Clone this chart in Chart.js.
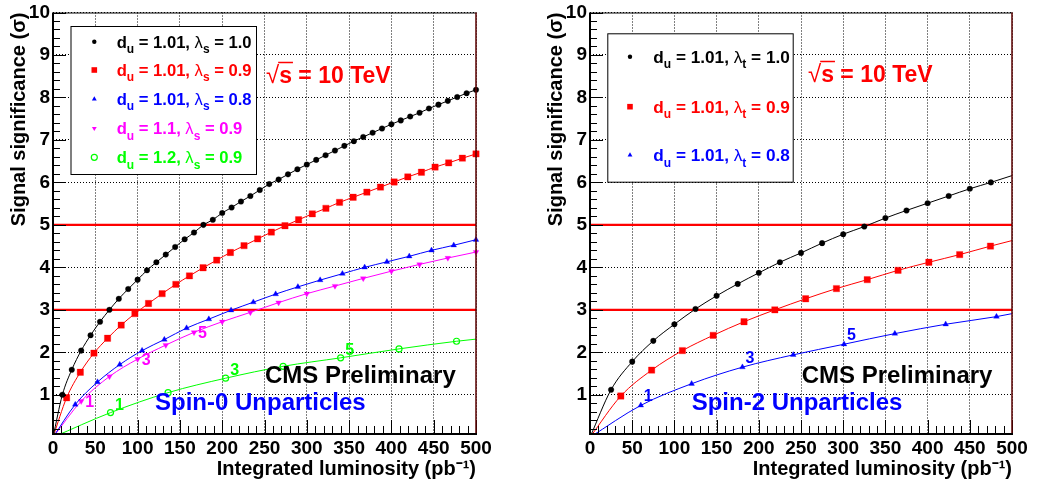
<!DOCTYPE html>
<html><head><meta charset="utf-8">
<script src="https://cdn.jsdelivr.net/npm/chart.js@4/dist/chart.umd.min.js"></script>
<style>
html,body{margin:0;padding:0;background:#fff;}
#wrap{position:relative;width:1038px;height:483px;overflow:hidden;background:#fff;}
canvas{position:absolute;top:0;}
#c0{left:0;}
#c1{left:519px;}
</style></head><body>
<div id="wrap"><canvas id="c0" width="519" height="483"></canvas><canvas id="c1" width="519" height="483"></canvas></div>
<script>
// ---------- axes ----------
const xTicks = [0,50,100,150,200,250,300,350,400,450,500];
const yTicks = [1,2,3,4,5,6,7,8,9,10];
const xRange = [0,500];
const yRange = [0.1,10];
const thresholds = [3,5];
const curveOrigin = [0,0];

// ---------- Spin-0 panel ----------
const s0Du = ['1.01','1.01','1.01','1.1','1.2'];
const s0Lambda = ['1.0','0.9','0.8','0.9','0.9'];

const s0BlackLumi = [11.1,22.2,33.3,44.4,55.6,66.7,77.8,88.9,100,111.1,122.2,133.3,144.4,155.6,166.7,177.8,188.9,200,211.1,222.2,233.3,244.4,255.6,266.7,277.8,288.9,300,311.1,322.2,333.3,344.4,355.6,366.7,377.8,388.9,400,411.1,422.2,433.3,444.4,455.6,466.7,477.8,488.9,500];
const s0BlackSig  = [1.00,1.59,2.04,2.40,2.72,3.00,3.26,3.49,3.71,3.93,4.12,4.30,4.48,4.66,4.82,5.00,5.12,5.28,5.41,5.55,5.68,5.82,5.96,6.07,6.19,6.31,6.42,6.53,6.64,6.75,6.86,6.97,7.07,7.17,7.27,7.37,7.46,7.55,7.64,7.74,7.83,7.92,8.01,8.10,8.18];

const s0RedLumi = [16.1,32.3,48.4,64.5,80.6,96.8,112.9,129.0,145.2,161.3,177.4,193.5,209.7,225.8,241.9,258.1,274.2,290.3,306.5,322.6,338.7,354.8,371.0,387.1,403.2,419.4,435.5,451.6,467.7,483.9,500];
const s0RedSig  = [0.93,1.53,1.98,2.33,2.64,2.91,3.15,3.38,3.60,3.80,3.99,4.17,4.35,4.51,4.67,4.83,4.98,5.12,5.26,5.39,5.53,5.65,5.77,5.89,6.01,6.13,6.24,6.36,6.46,6.57,6.67];

const s0BlueLumi = [26.3,52.6,78.9,105.3,131.6,157.9,184.2,210.5,236.8,263.2,289.5,315.8,342.1,368.4,394.7,421.1,447.4,473.7,500];
const s0BlueSig  = [0.77,1.30,1.71,2.04,2.30,2.57,2.78,2.99,3.18,3.37,3.54,3.70,3.85,4.00,4.13,4.26,4.40,4.52,4.65];

const s0MagentaLumi = [33.3,66.7,100,133.3,166.7,200,233.3,266.7,300,333.3,366.7,400,433.3,466.7,500];
const s0MagentaSig  = [0.85,1.43,1.84,2.17,2.47,2.72,2.94,3.17,3.38,3.56,3.74,3.91,4.07,4.22,4.36];

const s0GreenLumi = [68,136,204,272,340,409,477];
const s0GreenSig  = [0.58,1.05,1.39,1.67,1.87,2.08,2.26];
const s0GreenEnd  = [500,2.31];

const s0MarkText = ['1','3','5'];
const s0MarkIndex = [0,2,4];

// ---------- Spin-2 panel ----------
const s2Du = ['1.01','1.01','1.01'];
const s2Lambda = ['1.0','0.9','0.8'];

const s2BlackLumi = [25,50,75,100,125,150,175,200,225,250,275,300,325,350,375,400,425,450,475];
const s2BlackSig  = [1.12,1.78,2.27,2.66,3.02,3.33,3.61,3.87,4.12,4.34,4.57,4.78,4.96,5.16,5.34,5.51,5.68,5.85,6.00];
const s2BlackEnd  = [500,6.16];

const s2RedLumi = [36.5,73,109.5,146,182.5,219,255.5,292,328.5,365,401.5,438,474.5];
const s2RedSig  = [0.97,1.58,2.04,2.40,2.72,3.00,3.26,3.50,3.71,3.93,4.12,4.30,4.50];
const s2RedEnd  = [500,4.63];

const s2BlueLumi = [60.2,120.4,180.6,240.8,301,361.2,421.4,481.6];
const s2BlueSig  = [0.75,1.26,1.65,1.94,2.19,2.44,2.66,2.84];
const s2BlueEnd  = [500,2.91];

const s2MarkText = ['1','3','5'];
const s2MarkIndex = [0,2,4];

// ---------- helpers ----------
const FAM = '"Liberation Sans", Arial, Helvetica, sans-serif';
const C = {black:'#000000', red:'#ff0000', blue:'#0000ff', magenta:'#ff00ff', green:'#00ff00'};

function pts(xs, ys, start, end) {
  const p = [];
  if (start) p.push({x:start[0], y:start[1], anchor:true});
  xs.forEach((v,i)=>p.push({x:v, y:ys[i]}));
  if (end) p.push({x:end[0], y:end[1], anchor:true});
  return p;
}
function seriesDs(label, xs, ys, end, color, style, r, open) {
  const down = style === 'triangleDown';
  return {
    label, data: pts(xs, ys, curveOrigin, end),
    borderColor: color, borderWidth: 1,
    backgroundColor: open ? 'rgba(0,0,0,0)' : color,
    pointBorderColor: color, pointBorderWidth: open ? 1.2 : 0.3,
    pointBackgroundColor: open ? 'rgba(0,0,0,0)' : color,
    pointStyle: down ? 'triangle' : style, pointRotation: down ? 180 : 0,
    pointRadius: c => (c.raw && c.raw.anchor) ? 0 : r,
    cubicInterpolationMode: 'monotone', fill: false,
    clip: {left:0, top:0, right:8, bottom:0},
    xs, ys
  };
}
function thresholdDs(v) {
  return { label:'', data: [{x:xRange[0], y:v, anchor:true},{x:xRange[1], y:v, anchor:true}],
    borderColor: C.red, borderWidth: 2.2, pointRadius: 0, fill:false, clip:{left:0,top:0,right:0,bottom:0} };
}
function marker(ctx, style, x, y, r, color) {
  ctx.save();
  ctx.fillStyle = color; ctx.strokeStyle = color; ctx.lineWidth = 1.2;
  ctx.beginPath();
  if (style === 'circle' || style === 'open') ctx.arc(x, y, r, 0, Math.PI*2);
  else if (style === 'rect') ctx.rect(x - r, y - r, 2*r, 2*r);
  else if (style === 'triangle') { ctx.moveTo(x, y - r); ctx.lineTo(x + r*0.87, y + r*0.5); ctx.lineTo(x - r*0.87, y + r*0.5); ctx.closePath(); }
  else if (style === 'triangleDown') { ctx.moveTo(x, y + r); ctx.lineTo(x + r*0.87, y - r*0.5); ctx.lineTo(x - r*0.87, y - r*0.5); ctx.closePath(); }
  if (style === 'open') ctx.stroke(); else ctx.fill();
  ctx.restore();
}
function rich(ctx, x, base, parts, size, color) {
  let cx = x;
  ctx.textAlign = 'left'; ctx.textBaseline = 'alphabetic'; ctx.fillStyle = color;
  for (const [t, kind] of parts) {
    let dy = 0;
    if (kind === 'sub') { ctx.font = `bold ${Math.round(size*0.72)}px ${FAM}`; dy = size*0.32; }
    else if (kind === 'sym') { ctx.font = `${size}px ${FAM}`; }
    else ctx.font = `bold ${size}px ${FAM}`;
    ctx.fillText(t, cx, base + dy);
    cx += ctx.measureText(t).width;
  }
  return cx;
}

const deco = {
  id: 'deco',
  afterDatasetsDraw(chart, args, o) {
    const {ctx, chartArea: a, scales: {x, y}} = chart;
    ctx.save();
    // inner ticks
    ctx.strokeStyle = '#000'; ctx.lineWidth = 1;
    ctx.beginPath();
    for (let k = 0; k <= 50; k++) {
      const px = Math.round(x.getPixelForValue(k*10)) + 0.5;
      const len = (k % 5 === 0) ? 13 : 7;
      ctx.moveTo(px, a.bottom); ctx.lineTo(px, a.bottom - len);
    }
    for (let k = 1; k <= 50; k++) {
      const py = Math.round(y.getPixelForValue(k*0.2)) + 0.5;
      const len = (k % 5 === 0) ? 13 : 7;
      ctx.moveTo(a.left, py); ctx.lineTo(a.left + len, py);
    }
    ctx.stroke();
    // frame
    ctx.lineWidth = 1; ctx.strokeStyle = '#000';
    ctx.beginPath(); ctx.moveTo(a.left, a.top + 0.5); ctx.lineTo(a.right, a.top + 0.5); ctx.stroke();
    ctx.lineWidth = 1.5; ctx.strokeStyle = '#5a0000';
    ctx.beginPath(); ctx.moveTo(a.right, a.top); ctx.lineTo(a.right, a.bottom); ctx.stroke();
    ctx.lineWidth = 2; ctx.strokeStyle = '#000';
    ctx.beginPath(); ctx.moveTo(a.left, a.top); ctx.lineTo(a.left, a.bottom + 1); ctx.lineTo(a.right + 1, a.bottom + 1); ctx.stroke();

    // point labels
    ctx.font = `bold 16px ${FAM}`; ctx.textAlign = 'center'; ctx.textBaseline = 'middle';
    for (const m of o.marks) {
      const ds = chart.data.datasets[m.ds];
      m.idx.forEach((i, j) => {
        ctx.fillStyle = ds.borderColor;
        ctx.fillText(m.text[j], x.getPixelForValue(ds.xs[i]) + m.dx, y.getPixelForValue(ds.ys[i]) + m.dy);
      });
    }

    // legend
    const L = o.legend;
    ctx.fillStyle = '#fff'; ctx.fillRect(L.box[0], L.box[1], L.box[2]-L.box[0], L.box[3]-L.box[1]);
    ctx.strokeStyle = '#000'; ctx.lineWidth = 1;
    ctx.strokeRect(L.box[0] + 0.5, L.box[1] + 0.5, L.box[2]-L.box[0], L.box[3]-L.box[1]);
    L.entries.forEach((e, i) => {
      const ds = chart.data.datasets[i];
      const yc = L.rows[i];
      marker(ctx, e.style, L.markerX, yc, e.r, ds.borderColor);
      rich(ctx, L.textX, yc + 6, [['d'],['u','sub'],[' = ' + e.du + ', '],['\u03bb','sym'],[L.sub,'sub'],[' = ' + e.lam]], L.size, ds.borderColor);
    });

    // sqrt(s) label
    const S = o.sqrts;
    ctx.fillStyle = C.red; ctx.strokeStyle = C.red;
    ctx.font = `24px ${FAM}`; ctx.textAlign = 'left'; ctx.textBaseline = 'alphabetic';
    ctx.fillText('\u221a', S.x, S.base);
    const w0 = ctx.measureText('\u221a').width;
    ctx.font = `bold 23px ${FAM}`;
    const ws = ctx.measureText('s').width;
    ctx.fillText('s', S.x + w0, S.base);
    ctx.lineWidth = 1.5;
    ctx.beginPath(); ctx.moveTo(S.x + w0 - 1, S.base - 20.5); ctx.lineTo(S.x + w0 + ws + 1, S.base - 20.5); ctx.stroke();
    ctx.fillText(' = 10 TeV', S.x + w0 + ws, S.base);

    // texts
    for (const t of o.texts) {
      ctx.font = `bold ${t.size}px ${FAM}`; ctx.fillStyle = t.color;
      ctx.fillText(t.text, t.x, t.base);
    }
    ctx.restore();
  }
};

function makeChart(id, datasets, cfg) {
  const tickFont = {family: FAM, size: 19, weight: 'bold', lineHeight: 1};
  const titleFont = {family: FAM, size: 20, weight: 'bold', lineHeight: 1.2};
  return new Chart(document.getElementById(id), {
    type: 'line',
    data: { datasets },
    plugins: [deco],
    options: {
      responsive: false, animation: false, events: [],
      layout: { padding: {left: 0, right: cfg.padRight, top: 10, bottom: 0} },
      plugins: { legend: {display: false}, tooltip: {enabled: false}, deco: cfg.deco },
      scales: {
        x: {
          type: 'linear', min: xRange[0], max: xRange[1],
          afterBuildTicks: s => { s.ticks = xTicks.map(v => ({value: v})); },
          afterFit: s => { s.height = 50; },
          grid: {color: '#000', lineWidth: 1, drawTicks: false},
          border: {display: false, dash: [1, 2]},
          ticks: {font: tickFont, color: '#000', padding: 6, maxRotation: 0, autoSkip: false},
          title: {display: true, text: 'Integrated luminosity (pb\u207b\u00b9)', align: 'end', color: '#000', font: titleFont, padding: {top: 0, bottom: 2}}
        },
        y: {
          type: 'linear', min: yRange[0], max: yRange[1],
          afterBuildTicks: s => { s.ticks = yTicks.map(v => ({value: v})); },
          afterFit: s => { s.width = cfg.yWidth; },
          grid: {color: '#000', lineWidth: 1, drawTicks: false},
          border: {display: false, dash: [1, 2]},
          ticks: {font: tickFont, color: '#000', padding: 3, autoSkip: false},
          title: {display: true, text: 'Signal significance (\u03c3)', align: 'end', color: '#000', font: titleFont, padding: {top: cfg.yTitlePad, bottom: 0}}
        }
      }
    }
  });
}

// ---------- left: Spin-0 ----------
makeChart('c0', [
  seriesDs('s0a', s0BlackLumi, s0BlackSig, null, C.black, 'circle', 2.8, false),
  seriesDs('s0b', s0RedLumi, s0RedSig, null, C.red, 'rect', 4.5, false),
  seriesDs('s0c', s0BlueLumi, s0BlueSig, null, C.blue, 'triangle', 3.3, false),
  seriesDs('s0d', s0MagentaLumi, s0MagentaSig, null, C.magenta, 'triangleDown', 3.3, false),
  seriesDs('s0e', s0GreenLumi, s0GreenSig, s0GreenEnd, C.green, 'circle', 3, true),
  ...thresholds.map(thresholdDs)
], {
  padRight: 43, yWidth: 53, yTitlePad: 7,
  deco: {
    marks: [
      {ds: 3, idx: s0MarkIndex, text: s0MarkText, dx: 8.5, dy: 1},
      {ds: 4, idx: s0MarkIndex, text: s0MarkText, dx: 9, dy: -7.5}
    ],
    legend: {
      box: [70.5, 26, 256, 174], markerX: 94.3, textX: 116.7, rows: [41.7, 70, 99, 128.3, 157.3], size: 16.6, sub: 's',
      entries: [
        {style: 'circle', r: 2.2, du: s0Du[0], lam: s0Lambda[0]},
        {style: 'rect', r: 2.8, du: s0Du[1], lam: s0Lambda[1]},
        {style: 'triangle', r: 2.8, du: s0Du[2], lam: s0Lambda[2]},
        {style: 'triangleDown', r: 2.8, du: s0Du[3], lam: s0Lambda[3]},
        {style: 'open', r: 3, du: s0Du[4], lam: s0Lambda[4]}
      ]
    },
    sqrts: {x: 266, base: 83},
    texts: [
      {text: 'CMS Preliminary', x: 265, base: 383, size: 24, color: C.black},
      {text: 'Spin-0 Unparticles', x: 155, base: 410, size: 24, color: C.blue}
    ]
  }
});

// ---------- right: Spin-2 ----------
makeChart('c1', [
  seriesDs('s2a', s2BlackLumi, s2BlackSig, s2BlackEnd, C.black, 'circle', 2.8, false),
  seriesDs('s2b', s2RedLumi, s2RedSig, s2RedEnd, C.red, 'rect', 4.5, false),
  seriesDs('s2c', s2BlueLumi, s2BlueSig, s2BlueEnd, C.blue, 'triangle', 3.3, false),
  ...thresholds.map(thresholdDs)
], {
  padRight: 26, yWidth: 71, yTitlePad: 25,
  deco: {
    marks: [
      {ds: 2, idx: s2MarkIndex, text: s2MarkText, dx: 7.5, dy: -9}
    ],
    legend: {
      box: [88.3, 33.3, 273.7, 181.7], markerX: 111, textX: 134.3, rows: [56.7, 106.7, 155], size: 17.2, sub: 't',
      entries: [
        {style: 'circle', r: 2.2, du: s2Du[0], lam: s2Lambda[0]},
        {style: 'rect', r: 2.8, du: s2Du[1], lam: s2Lambda[1]},
        {style: 'triangle', r: 2.8, du: s2Du[2], lam: s2Lambda[2]}
      ]
    },
    sqrts: {x: 289, base: 82},
    texts: [
      {text: 'CMS Preliminary', x: 282.7, base: 383, size: 24, color: C.black},
      {text: 'Spin-2 Unparticles', x: 172.7, base: 410, size: 24, color: C.blue}
    ]
  }
});
</script>
</body></html>
